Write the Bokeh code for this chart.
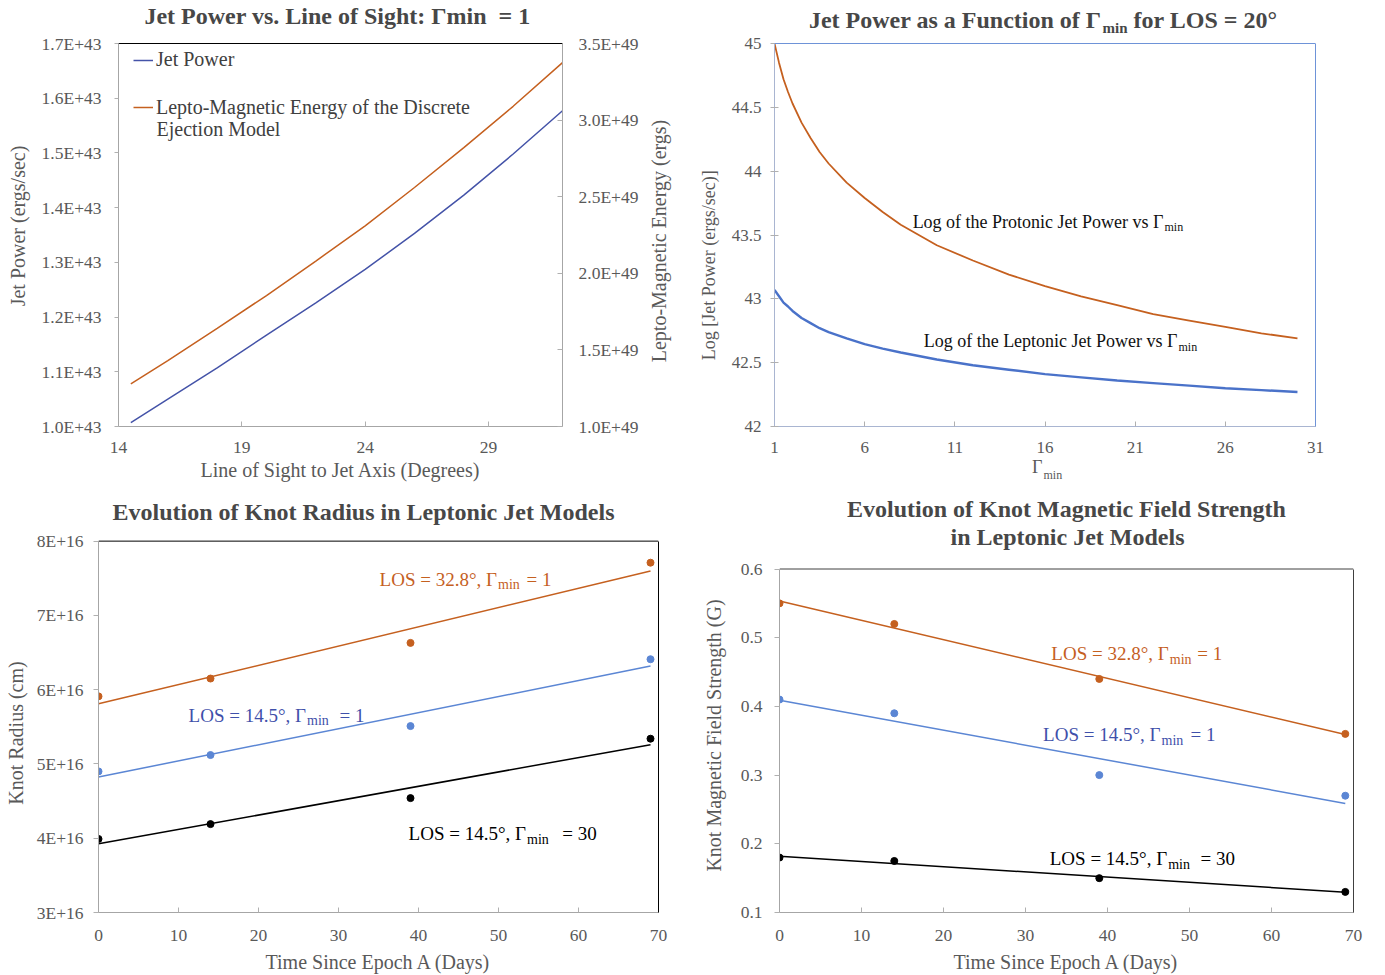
import numpy as np
from bokeh.plotting import figure
from bokeh.models import (Range1d, LinearAxis, Label, Legend, LegendItem, Span,
                          FixedTicker, CustomJSTickFormatter)
from bokeh.layouts import row, column
from bokeh.embed import file_html
from bokeh.resources import INLINE

FONT = "Liberation Serif"
NB = "\u00a0"

# ---------------- data ----------------
# Panel 1: jet power vs line of sight (Gamma_min = 1)
los_deg = [14.5, 16, 18, 20, 22, 24, 26, 28, 30, 32]
jet_power = [1.007e43, 1.050e43, 1.107e43, 1.167e43, 1.226e43,
             1.287e43, 1.353e43, 1.423e43, 1.498e43, 1.577e43]
lepto_energy = [1.278e49, 1.430e49, 1.640e49, 1.855e49, 2.080e49,
                2.310e49, 2.560e49, 2.820e49, 3.090e49, 3.375e49]
p1_x_ticks = [14, 19, 24, 29]
p1_y_ticks = [1.0e43, 1.1e43, 1.2e43, 1.3e43, 1.4e43, 1.5e43, 1.6e43, 1.7e43]
p1_y2_ticks = [1.0e49, 1.5e49, 2.0e49, 2.5e49, 3.0e49, 3.5e49]

# Panel 2: log jet power vs Gamma_min (LOS = 20 deg)
gamma_min = [1, 1.25, 1.5, 1.75, 2, 2.5, 3, 3.5, 4, 5, 6, 7, 8, 10, 12, 14, 16,
             18, 20, 22, 24, 26, 28, 30]
log_protonic = [45.00, 44.85, 44.72, 44.62, 44.53, 44.38, 44.26, 44.15, 44.06, 43.91,
                43.79, 43.68, 43.58, 43.42, 43.30, 43.19, 43.10, 43.02, 42.95, 42.88,
                42.83, 42.78, 42.73, 42.69]
log_leptonic = [43.07, 43.02, 42.97, 42.94, 42.905, 42.85, 42.81, 42.77, 42.74, 42.69,
                42.645, 42.61, 42.58, 42.525, 42.48, 42.445, 42.41, 42.385, 42.36, 42.34,
                42.32, 42.30, 42.285, 42.27]
p2_x_ticks = [1, 6, 11, 16, 21, 26, 31]
p2_y_ticks = [42, 42.5, 43, 43.5, 44, 44.5, 45]

# Panels 3 and 4: knot evolution
days = [0, 14, 39, 69]
radius_los32_g1 = [5.91e16, 6.15e16, 6.63e16, 7.71e16]
radius_los14_g1 = [4.90e16, 5.12e16, 5.51e16, 6.41e16]
radius_los14_g30 = [3.99e16, 4.19e16, 4.54e16, 5.34e16]
bfield_los32_g1 = [0.55, 0.52, 0.44, 0.36]
bfield_los14_g1 = [0.41, 0.39, 0.30, 0.27]
bfield_los14_g30 = [0.18, 0.175, 0.15, 0.13]
day_ticks = [0, 10, 20, 30, 40, 50, 60, 70]
p3_y_ticks = [3e16, 4e16, 5e16, 6e16, 7e16, 8e16]
p4_y_ticks = [0.1, 0.2, 0.3, 0.4, 0.5, 0.6]

# ---------------- styles ----------------
ORANGE = "#C5601F"
BLUE1 = "#4453A8"
BLUE2 = "#4A72C9"
BLUE_PT = "#5B86D4"
BLUE_TXT = "#3F50AA"
GRAY_AX = "#A6A6A6"
TXT = "#595959"
TITLE = "#474747"


def ext_top(lo, hi, box_top, frame_top, frame_bottom):
    """upper range value so that `hi` sits at box_top when the frame starts at frame_top"""
    return hi + (box_top - frame_top) / (frame_bottom - box_top) * (hi - lo)


def make_fig(w, h, bl, br, bt, bb, xr, yr):
    p = figure(width=w, height=h, x_range=Range1d(*xr), y_range=Range1d(*yr),
               output_backend="svg", toolbar_location=None,
               min_border_left=bl, min_border_right=br,
               min_border_top=bt, min_border_bottom=bb)
    p.grid.visible = False
    p.outline_line_color = None
    return p


def style_axis(ax, line_color, tin, tout, standoff, size="17.5px"):
    ax.axis_line_color = line_color
    ax.major_tick_line_color = "#B0B0B0"
    ax.major_tick_in = tin
    ax.major_tick_out = tout
    ax.minor_tick_line_color = None
    ax.major_label_text_font = FONT
    ax.major_label_text_font_size = size
    ax.major_label_text_color = TXT
    ax.major_label_standoff = standoff
    ax.axis_label_text_font = FONT
    ax.axis_label_text_font_style = "normal"
    ax.axis_label_text_color = TXT


def border_axis(p, side, color, bounds="auto", **kw):
    ax = LinearAxis(ticker=FixedTicker(ticks=[]), axis_line_color=color, bounds=bounds,
                    major_tick_line_color=None, minor_tick_line_color=None,
                    major_label_text_font_size="0px", **kw)
    p.add_layout(ax, side)
    return ax


def top_border(p, loc, color):
    p.add_layout(Span(location=loc, dimension="width", line_color=color, line_width=1))


def lab(p, fr, X, Y, text, size, color=TXT, align="left", bold=False):
    """Y is the vertical centre of the text (page pixels)."""
    FL, FB = fr
    p.add_layout(Label(x=X - FL, y=FB - Y, x_units="screen", y_units="screen",
                       text=text, text_font=FONT, text_font_size=f"{size}px",
                       text_color=color, text_align=align, text_baseline="middle",
                       text_font_style="bold" if bold else "normal"))


def gmin_label(p, fr, xg, ym, pre, ysub, xpost, post, size, ssize, color, bold=False):
    lab(p, fr, xg, ym, pre, size, color, align="right", bold=bold)
    lab(p, fr, xg + 1, ysub, "min", ssize, color, bold=bold)
    if post:
        lab(p, fr, xpost, ym, post, size, color, bold=bold)


TOP_H = 458
BOT_H = 517
W1 = 641

# ---------------- panel 1 ----------------
fr1 = (118, 426)
p1 = make_fig(W1, TOP_H, 118, W1 - 118 - 444, 0, TOP_H - 426, (14, 32),
              (1.0e43, ext_top(1.0e43, 1.7e43, 43, 0, 426)))
p1.extra_y_ranges = {"energy": Range1d(1.0e49, ext_top(1.0e49, 3.5e49, 43, 0, 426))}
r_jp = p1.line(los_deg, jet_power, line_color=BLUE1, line_width=1.5)
r_le = p1.line(los_deg, lepto_energy, line_color=ORANGE, line_width=1.5,
               y_range_name="energy")
p1.xaxis.ticker = FixedTicker(ticks=p1_x_ticks)
p1.yaxis.ticker = FixedTicker(ticks=p1_y_ticks)
p1.yaxis.bounds = (1.0e43, 1.7e43)
p1.yaxis.formatter = CustomJSTickFormatter(code="return (tick/1e43).toFixed(1) + 'E+43';")
style_axis(p1.xaxis[0], GRAY_AX, 5, 0, 15)
style_axis(p1.yaxis[0], GRAY_AX, 0, 4, 13)
p1.yaxis.axis_label = "Jet Power (ergs/sec)" + NB * 5
p1.yaxis.axis_label_text_font_size = "20px"
p1.yaxis.axis_label_standoff = 10
ax_r = LinearAxis(y_range_name="energy", ticker=FixedTicker(ticks=p1_y2_ticks),
                  bounds=(1.0e49, 3.5e49),
                  formatter=CustomJSTickFormatter(code="return (tick/1e49).toFixed(1) + 'E+49';"))
style_axis(ax_r, GRAY_AX, 5, 0, 16)
p1.add_layout(ax_r, "right")
top_border(p1, 1.7e43, "black")
leg_kw = dict(padding=0, margin=0, glyph_width=20, glyph_height=20, label_height=20,
              label_standoff=3, label_text_font=FONT, label_text_font_size="20px",
              label_text_color="#404040", border_line_color=None, background_fill_alpha=0)
p1.add_layout(Legend(items=[LegendItem(label="Jet Power", renderers=[r_jp])],
                     location=(15, 354.7), **leg_kw))
p1.add_layout(Legend(items=[LegendItem(label="Lepto-Magnetic Energy of the Discrete",
                                       renderers=[r_le])],
                     location=(15, 307.3), **leg_kw))
lab(p1, fr1, 156, 128.5, "Ejection Model", 20, "#404040")
lab(p1, fr1, 337, 15, "Jet Power vs. Line of Sight: \u0393min" + NB + " = 1", 24, TITLE,
    align="center", bold=True)

# ---------------- panel 2 ----------------
fr2 = (774, 426)
p2 = make_fig(1385 - W1, TOP_H, 774 - W1, 70, 0, TOP_H - 426, (1, 31),
              (42, ext_top(42, 45, 43, 0, 426)))
p2.line(gamma_min, log_protonic, line_color=ORANGE, line_width=1.8)
p2.line(gamma_min, log_leptonic, line_color=BLUE2, line_width=2.4)
p2.xaxis.ticker = FixedTicker(ticks=p2_x_ticks)
p2.yaxis.ticker = FixedTicker(ticks=p2_y_ticks)
p2.yaxis.bounds = (42, 45)
p2.yaxis.formatter = CustomJSTickFormatter(code="return tick.toString();")
style_axis(p2.xaxis[0], "#A9B5D1", 5, 0, 15, "17px")
style_axis(p2.yaxis[0], "#A9B5D1", 4, 4, 9, "17px")
p2.yaxis.axis_label = "Log [Jet Power (ergs/sec)]" + NB * 23
p2.yaxis.axis_label_text_font_size = "18px"
p2.yaxis.axis_label_standoff = 10
top_border(p2, 45, "#6E93D8")
border_axis(p2, "right", "#6E93D8", (42, 45))
# secondary-axis title of panel 1 (right of panel 1's energy axis)
ax_e = border_axis(p2, "left", None)
style_axis(ax_e, None, 0, 0, 0)
ax_e.major_tick_line_color = None
ax_e.major_label_text_font_size = "0px"
ax_e.axis_label = "Lepto-Magnetic Energy (ergs)" + NB * 11
ax_e.axis_label_text_font_size = "20px"
ax_e.axis_label_standoff = 26
gmin_label(p2, fr2, 1101, 19, "Jet Power as a Function of \u0393", 27, 1133,
           "for LOS = 20\u00b0", 24, 15, TITLE, bold=True)
gmin_label(p2, fr2, 1163, 221, "Log of the Protonic Jet Power vs \u0393", 226, 0, "",
           18, 12, "#111111")
gmin_label(p2, fr2, 1177, 340.5, "Log of the Leptonic Jet Power vs \u0393", 346, 0, "",
           18, 12, "#111111")

# ---------------- panel 3 ----------------
fr3 = (98, 914)
p3 = make_fig(690, BOT_H, 98, 32, 0, 975 - 914, (0, 70),
              (3e16, ext_top(3e16, 8e16, 541, TOP_H, 914)))
for vals, col in [(radius_los32_g1, ORANGE), (radius_los14_g1, BLUE_PT),
                  (radius_los14_g30, "black")]:
    k, b = np.polyfit(days, vals, 1)
    xs = [days[0], days[-1]]
    p3.line(xs, [k * x + b for x in xs], line_color=col, line_width=1.5)
    p3.scatter(days, vals, size=7, color=col)
p3.xaxis.ticker = FixedTicker(ticks=day_ticks)
p3.yaxis.ticker = FixedTicker(ticks=p3_y_ticks)
p3.yaxis.bounds = (3e16, 8e16)
p3.yaxis.formatter = CustomJSTickFormatter(code="return (tick/1e16).toFixed(0) + 'E+16';")
style_axis(p3.xaxis[0], GRAY_AX, 5, 0, 17)
style_axis(p3.yaxis[0], GRAY_AX, 0, 5, 10)
p3.xaxis.axis_label = "Time Since Epoch A (Days)"
p3.xaxis.axis_label_text_font_size = "20px"
p3.xaxis.axis_label_standoff = 7
p3.yaxis.axis_label = "Knot Radius (cm)" + NB * 19
p3.yaxis.axis_label_text_font_size = "20px"
p3.yaxis.axis_label_standoff = 7
top_border(p3, 8e16, "black")
border_axis(p3, "right", "black", (3e16, 8e16))
lab(p3, fr3, 363, 513, "Evolution of Knot Radius in Leptonic Jet Models", 24, TITLE,
    align="center", bold=True)
gmin_label(p3, fr3, 496.5, 580.8, "LOS = 32.8\u00b0, \u0393", 586, 526, "= 1", 19, 14, ORANGE)
gmin_label(p3, fr3, 305.5, 716.5, "LOS = 14.5\u00b0, \u0393", 722.3, 339, "= 1", 19, 14, BLUE_TXT)
gmin_label(p3, fr3, 525.5, 835, "LOS = 14.5\u00b0, \u0393", 841.3, 561.7, "= 30", 19, 14, "black")
# x-axis title of panel 1 (sits just above this frame)
lab(p3, fr3, 340, 471.7, "Line of Sight to Jet Axis (Degrees)", 20, TXT, align="center")

# ---------------- panel 4 ----------------
fr4 = (779, 914)
p4 = make_fig(695, BOT_H, 89, 32, 0, 975 - 914, (0, 70),
              (0.1, ext_top(0.1, 0.6, 569, TOP_H, 914)))
for vals, col in [(bfield_los32_g1, ORANGE), (bfield_los14_g1, BLUE_PT),
                  (bfield_los14_g30, "black")]:
    k, b = np.polyfit(days, vals, 1)
    xs = [days[0], days[-1]]
    p4.line(xs, [k * x + b for x in xs], line_color=col, line_width=1.5)
    p4.scatter(days, vals, size=7, color=col)
p4.xaxis.ticker = FixedTicker(ticks=day_ticks)
p4.yaxis.ticker = FixedTicker(ticks=p4_y_ticks)
p4.yaxis.bounds = (0.1, 0.6)
p4.yaxis.formatter = CustomJSTickFormatter(code="return tick.toFixed(1);")
style_axis(p4.xaxis[0], GRAY_AX, 5, 0, 17)
style_axis(p4.yaxis[0], GRAY_AX, 0, 5, 12)
p4.xaxis.axis_label = "Time Since Epoch A (Days)"
p4.xaxis.axis_label_text_font_size = "20px"
p4.xaxis.axis_label_standoff = 7
p4.yaxis.axis_label = "Knot Magnetic Field Strength (G)" + NB * 20
p4.yaxis.axis_label_text_font_size = "20px"
p4.yaxis.axis_label_standoff = 13
top_border(p4, 0.6, "#404040")
border_axis(p4, "right", "#404040", (0.1, 0.6))
lab(p4, fr4, 1066, 510.5, "Evolution of Knot Magnetic Field Strength", 24, TITLE,
    align="center", bold=True)
lab(p4, fr4, 1067, 538, "in Leptonic Jet Models", 24, TITLE, align="center", bold=True)
gmin_label(p4, fr4, 1168.3, 655.3, "LOS = 32.8\u00b0, \u0393", 661, 1196.7, "= 1", 19, 14, ORANGE)
gmin_label(p4, fr4, 1160, 736.3, "LOS = 14.5\u00b0, \u0393", 742.3, 1190, "= 1", 19, 14, BLUE_TXT)
gmin_label(p4, fr4, 1166.7, 860.3, "LOS = 14.5\u00b0, \u0393", 866, 1200, "= 30", 19, 14, "black")
# x-axis title of panel 2 (sits just above this frame)
gmin_label(p4, fr4, 1042, 468, "\u0393", 476, 0, "", 18, 12, TXT)

layout = column(row(p1, p2), row(p3, p4))
open("out.html", "w").write(file_html(layout, INLINE))
